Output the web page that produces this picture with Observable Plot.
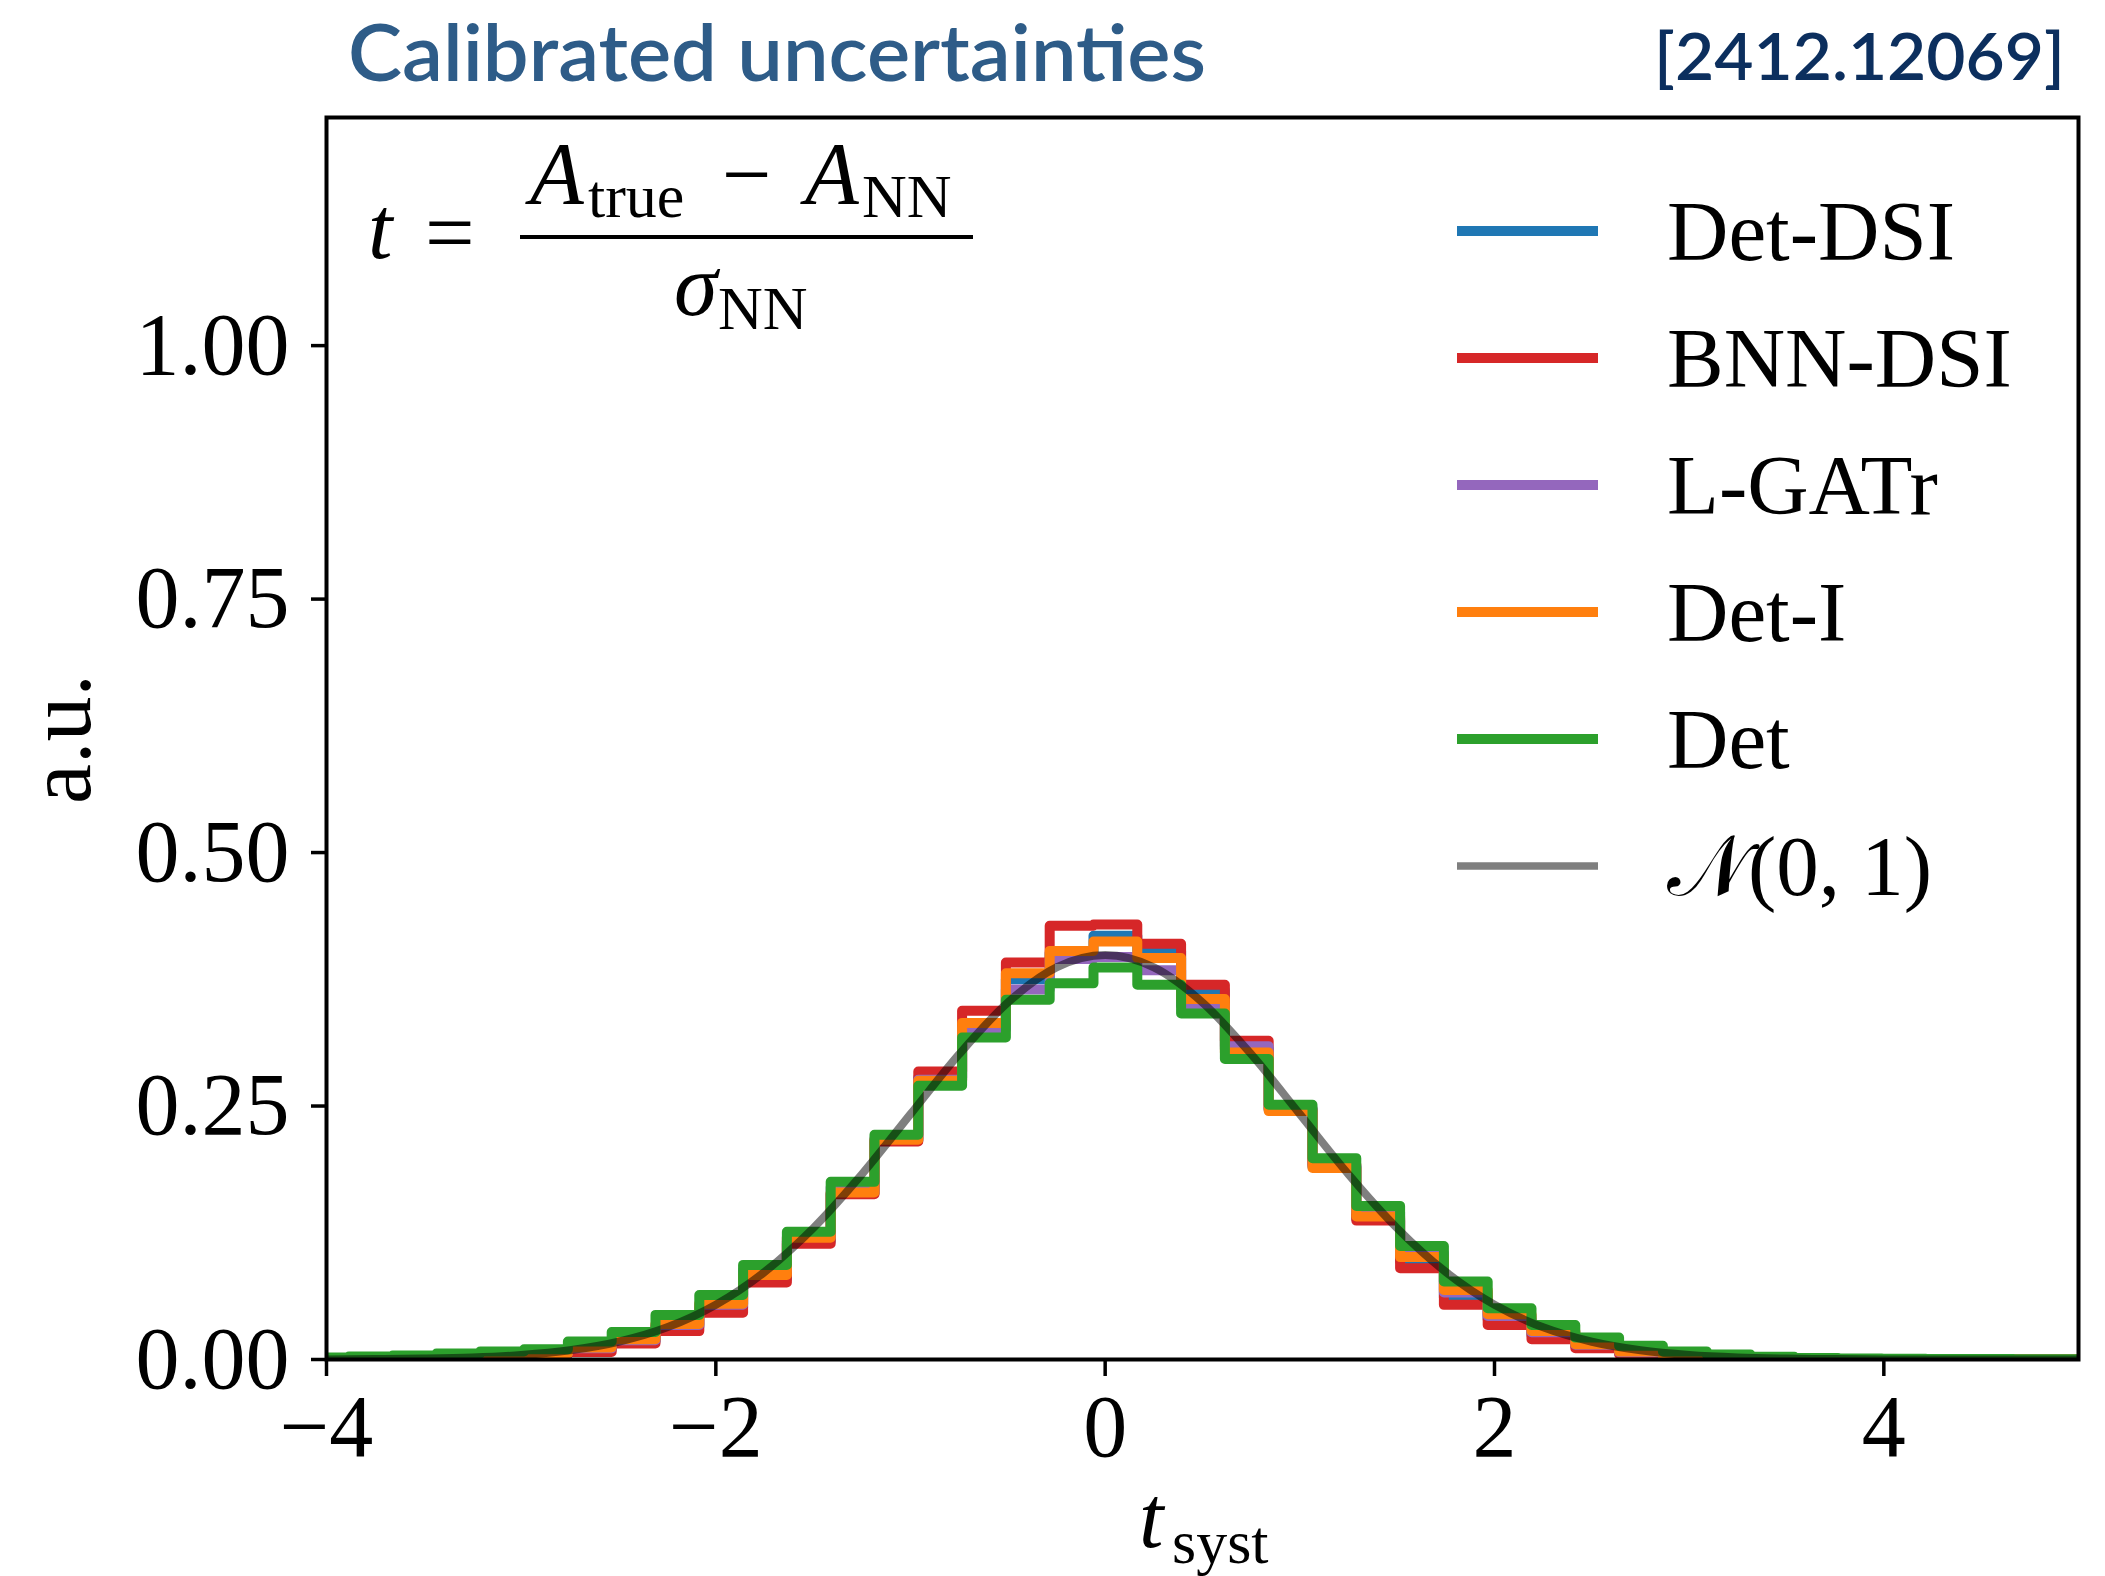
<!DOCTYPE html>
<html><head><meta charset="utf-8">
<script src="https://cdn.jsdelivr.net/npm/d3@7"></script>
<script src="https://cdn.jsdelivr.net/npm/@observablehq/plot@0.6"></script>
<style>
html,body{margin:0;padding:0;background:#fff;}
#chart{position:relative;width:2105px;height:1576px;}
</style></head><body><div id="chart"></div>
<script>
// ---- data ----
const edges = [-4.110,-3.885,-3.660,-3.435,-3.210,-2.985,-2.760,-2.535,-2.310,-2.085,-1.860,-1.635,-1.410,-1.185,-0.960,-0.735,-0.510,-0.285,-0.060,0.165,0.390,0.615,0.840,1.065,1.290,1.515,1.740,1.965,2.190,2.415,2.640,2.865,3.090,3.315,3.540,3.765,3.990,4.215,4.440,4.665,4.890,5.115];
const seriesNames = ["Det-DSI","BNN-DSI","L-GATr","Det-I","Det"];
const detDSI = [0.0003,0.0005,0.001,0.0016,0.003,0.0055,0.010,0.018,0.032,0.051,0.080,0.117,0.164,0.216,0.278,0.330,0.375,0.401,0.418,0.403,0.364,0.306,0.246,0.190,0.139,0.097,0.0611,0.0397,0.024,0.0135,0.0065,0.003,0.0014,0.0007,0.0003,0.0002,0.0001,0,0,0,0];
const bnnDSI = [0.0002,0.0004,0.0007,0.0012,0.0025,0.005,0.0075,0.0157,0.028,0.0462,0.0759,0.1142,0.163,0.215,0.284,0.344,0.3916,0.4278,0.429,0.410,0.3696,0.3143,0.247,0.1926,0.137,0.090,0.0539,0.034,0.0199,0.0112,0.0052,0.0029,0.0012,0.0006,0.0003,0.0001,0,0,0,0,0];
const lgatr = [0.0003,0.0006,0.001,0.0018,0.0035,0.006,0.011,0.019,0.034,0.054,0.0883,0.121,0.170,0.218,0.276,0.326,0.365,0.395,0.397,0.384,0.349,0.309,0.248,0.191,0.1457,0.105,0.066,0.043,0.027,0.0145,0.0072,0.0033,0.0016,0.0008,0.0004,0.0002,0.0001,0,0,0,0];
const detI = [0.0005,0.0008,0.0012,0.002,0.004,0.006,0.0118,0.020,0.035,0.0551,0.0834,0.120,0.1647,0.2168,0.275,0.332,0.381,0.403,0.4123,0.396,0.3555,0.3028,0.245,0.1889,0.141,0.101,0.0686,0.0447,0.0282,0.0150,0.0078,0.0035,0.0018,0.0009,0.0004,0.0002,0.0001,0.0001,0,0,0];
const det = [0.002,0.003,0.004,0.006,0.008,0.010,0.0177,0.0272,0.044,0.0637,0.0933,0.126,0.1752,0.2216,0.270,0.3176,0.3548,0.371,0.3867,0.3696,0.3413,0.2963,0.2512,0.1986,0.1515,0.112,0.077,0.0506,0.0341,0.0216,0.0135,0.008,0.005,0.0028,0.0016,0.0011,0.0008,0.0006,0.0004,0.0003,0.0002];
const normalX = [-4,-3.75,-3.5,-3.25,-3,-2.75,-2.5,-2.25,-2,-1.75,-1.5,-1.25,-1,-0.75,-0.5,-0.25,0,0.25,0.5,0.75,1,1.25,1.5,1.75,2,2.25,2.5,2.75,3,3.25,3.5,3.75,4,4.25,4.5,4.75,5];
const normalY = [0.0001,0.0004,0.0009,0.0020,0.0044,0.0091,0.0175,0.0317,0.0540,0.0863,0.1295,0.1826,0.2420,0.3011,0.3521,0.3867,0.3989,0.3867,0.3521,0.3011,0.2420,0.1826,0.1295,0.0863,0.0540,0.0317,0.0175,0.0091,0.0044,0.0020,0.0009,0.0004,0.0001,0,0,0,0];
const normalLabel = "\u{1D4A9}(0, 1)";
const xTicks = [-4,-2,0,2,4];
const yTicks = [0,0.25,0.5,0.75,1.0];
const titleText = "Calibrated uncertainties";
const refText = "[2412.12069]";
const yLabel = "a.u.";
const xLabelMain = "t", xLabelSub = "syst";

// ---- styles ----
const colors = ["#1f77b4","#d62728","#9467bd","#ff7f0e","#2ca02c"];
const serif = "'Liberation Serif','DejaVu Serif',serif";

const seriesValues = [detDSI, bnnDSI, lgatr, detI, det];
function stepData(vals){
  const pts = vals.map((v,i)=>({x:edges[i], y:v}));
  pts.push({x:edges[edges.length-1], y:vals[vals.length-1]});
  return pts;
}
const normalData = normalX.map((x,i)=>({x, y:normalY[i]}));

const W = 2105, H = 1576;
const plot = Plot.plot({
  width: W, height: H,
  marginLeft: 326, marginRight: 27, marginTop: 117, marginBottom: 217,
  x: {domain: [-4, 5]},
  y: {domain: [0, 1.225]},
  style: {background: "white", fontFamily: serif, color: "black"},
  marks: [
    ...seriesValues.map((vals,i)=>Plot.line(stepData(vals), {x:"x", y:"y", curve:"step-after", stroke: colors[i], strokeWidth: 10, clip: true})),
    Plot.line(normalData, {x:"x", y:"y", curve:"monotone-x", stroke:"black", strokeOpacity:0.5, strokeWidth:8, clip:true}),
    Plot.frame({stroke:"black", strokeWidth:4}),
    Plot.axisX({ticks: xTicks, tickSize: 17, tickPadding: 17, tickFormat: d => d < 0 ? "\u2212" + (-d) : String(d), fontSize: 88, fontFamily: serif, label: null, strokeWidth: 3.5}),
    Plot.axisY({ticks: yTicks, tickSize: 15, tickPadding: 22, tickFormat: d3.format(".2f"), fontSize: 88, fontFamily: serif, label: null, strokeWidth: 3.5})
  ]
});
document.getElementById("chart").appendChild(plot);

// ---- annotations ----
const svg = d3.select(plot);
const g = svg.append("g").attr("text-anchor", "start");
g.append("text").attr("x", 348).attr("y", 81).attr("font-family", "Lato, 'Noto Sans', sans-serif").attr("font-weight", 600)
  .attr("font-size", 78).attr("fill", "#2e5c88").attr("textLength", 858).attr("lengthAdjust", "spacingAndGlyphs").text(titleText);
g.append("text").attr("x", 1654).attr("y", 80).attr("font-family", "Lato, 'Noto Sans', sans-serif").attr("font-weight", 600)
  .attr("font-size", 66).attr("fill", "#0c2f5e").attr("textLength", 411).attr("lengthAdjust", "spacingAndGlyphs").text(refText);

// formula
function txt(x, y, s, size, italic) {
  return g.append("text").attr("x", x).attr("y", y).attr("font-family", serif)
    .attr("font-size", size).attr("font-style", italic ? "italic" : "normal").attr("fill", "black").text(s);
}
txt(368, 258, "t", 88, true);
txt(425, 262, "=", 88, false);
g.append("rect").attr("x", 520).attr("y", 235).attr("width", 453).attr("height", 4).attr("fill", "black");
txt(530, 203, "A", 88, true);
txt(588, 217, "true", 62, false);
txt(722, 204, "\u2212", 88, false);
txt(805, 203, "A", 88, true);
txt(862, 217, "NN", 62, false);
txt(674, 315, "\u03C3", 88, true);
txt(718, 329, "NN", 62, false);

// axis labels
g.append("text").attr("transform", "translate(90,739) rotate(-90)").attr("text-anchor", "middle")
  .attr("font-family", serif).attr("font-size", 90).attr("fill", "black").text(yLabel);
txt(1139, 1547, xLabelMain, 88, true);
txt(1172, 1563, xLabelSub, 62, false);

// legend
const legendNames = [...seriesNames, normalLabel];
legendNames.forEach((name, i) => {
  const y = 231 + i * 127;
  const isNormal = i === seriesNames.length;
  g.append("line").attr("x1", 1457).attr("x2", 1598).attr("y1", y).attr("y2", y)
    .attr("stroke", isNormal ? "black" : colors[i]).attr("stroke-opacity", isNormal ? 0.5 : 1)
    .attr("stroke-width", isNormal ? 7.5 : 10);
  g.append("text").attr("x", 1667).attr("y", y + 29).attr("font-family", serif)
    .attr("font-size", 85).attr("fill", "black").text(name);
});
</script></body></html>
